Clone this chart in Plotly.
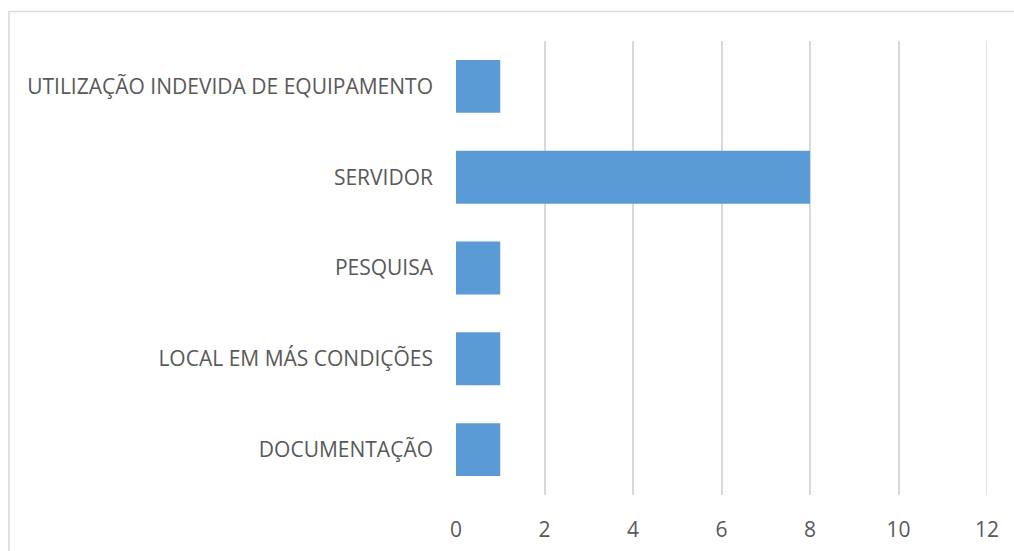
import plotly.graph_objects as go

# Categories listed bottom to top
categorias = [
    "DOCUMENTAÇÃO",
    "LOCAL EM MÁS CONDIÇÕES",
    "PESQUISA",
    "SERVIDOR",
    "UTILIZAÇÃO INDEVIDA DE EQUIPAMENTO",
]
quantidades = [1, 1, 1, 8, 1]
x_ticks = [0, 2, 4, 6, 8, 10, 12]

W, H = 1014, 551
ml, mr, mt, mb = 455.5, 27.0, 40.6, 56.1
pw, ph = W - ml - mr, H - mt - mb

fig = go.Figure(
    go.Bar(
        x=quantidades,
        y=categorias,
        orientation="h",
        marker=dict(color="#5b9bd5", line=dict(width=0)),
    )
)

grid = "#d9d9d9"
fig.update_layout(
    width=W,
    height=H,
    margin=dict(l=ml, r=mr, t=mt, b=mb, pad=0, autoexpand=False),
    paper_bgcolor="white",
    plot_bgcolor="white",
    bargap=0.417,
    showlegend=False,
    font=dict(family="Open Sans", color="#595959", size=21),
    xaxis=dict(
        range=[0, 12],
        tickvals=x_ticks,
        ticktext=[str(v) for v in x_ticks],
        showgrid=True,
        gridcolor=grid,
        gridwidth=1.5,
        zeroline=False,
        showline=False,
        ticks="",
        ticklabelstandoff=20,
        automargin=False,
        fixedrange=True,
    ),
    yaxis=dict(
        categoryorder="array",
        categoryarray=categorias,
        showgrid=False,
        zeroline=False,
        showline=False,
        ticks="",
        ticklabelstandoff=22,
        automargin=False,
        fixedrange=True,
    ),
    shapes=[
        # chart frame
        dict(
            type="rect",
            xref="paper",
            yref="paper",
            x0=(8 - ml) / pw,
            x1=1.2,
            y0=-0.3,
            y1=(H - mb - 11) / ph,
            line=dict(color=grid, width=1.5),
            fillcolor="rgba(0,0,0,0)",
            layer="below",
        ),
        # gridline at the upper end of the value axis
        dict(
            type="line",
            xref="x",
            yref="paper",
            x0=x_ticks[-1],
            x1=x_ticks[-1],
            y0=0,
            y1=1,
            line=dict(color=grid, width=1.5),
            layer="below",
        ),
    ],
)

fig.write_html("out.html")
